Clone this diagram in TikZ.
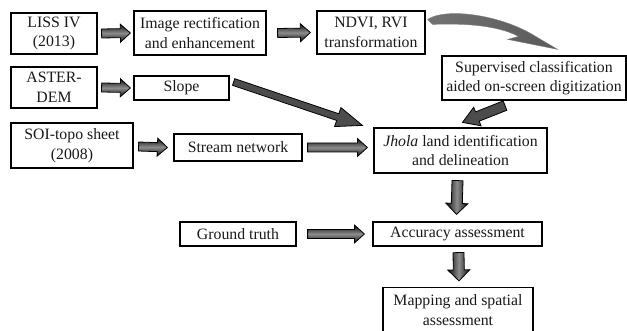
\documentclass[tikz,border=0pt]{standalone}
\usepackage{fontspec}
\setmainfont{Liberation Serif}
\usetikzlibrary{calc}
\newcommand\blockarrow[6][]{%
  \coordinate (ba) at #2;
  \coordinate (bb) at #3;
  \coordinate (bc) at ($(bb)!#6!(ba)$);
  \path[barrow,#1] ($(ba)!#4!90:(bb)$) -- ($(bc)!#4!90:(bb)$) -- ($(bc)!#5!90:(bb)$) -- (bb)
     -- ($(bc)!#5!-90:(bb)$) -- ($(bc)!#4!-90:(bb)$) -- ($(ba)!#4!-90:(bb)$) -- cycle;
}
\begin{document}
\begin{tikzpicture}[x=1pt,y=-1pt,
  box/.style={draw=black, line width=1.2pt, inner sep=0pt, align=center,
    font=\fontsize{15.8}{19.5}\selectfont, text=black!90},
  barrow/.style={draw=black, line width=0.8pt, top color=black!95, bottom color=black!95, middle color=black!45},
  barrowflat/.style={shade=false, fill=black!70},
]
\useasboundingbox (0,0) rectangle (627,331);

\node[box, minimum width=86pt, minimum height=41pt] (liss) at (54,33.5) {LISS IV\\(2013)};
\node[box, minimum width=132pt, minimum height=44pt] (imgrect) at (200,33) {Image rectification\\and enhancement};
\node[box, minimum width=108pt, minimum height=43pt] (ndvi) at (371,32.5) {NDVI, RVI\\transformation};
\node[box, minimum width=86pt, minimum height=41pt] (aster) at (54,87.5) {ASTER-\\DEM};
\node[box, minimum width=95pt, minimum height=24pt] (slope) at (181.5,88) {Slope};
\node[box, minimum width=184pt, minimum height=44pt] (sup) at (534,78) {Supervised classification\\aided on-screen digitization};
\node[box, minimum width=122pt, minimum height=45pt] (soi) at (72,145.5) {SOI-topo sheet\\(2008)};
\node[box, minimum width=128pt, minimum height=27pt] (stream) at (238,147.5) {Stream network};
\node[box, minimum width=173pt, minimum height=45pt] (jhola) at (460.5,150.5) {\textit{Jhola} land identification\\and delineation};
\node[box, minimum width=116pt, minimum height=24pt] (ground) at (238,234) {Ground truth};
\node[box, minimum width=169pt, minimum height=24pt] (acc) at (457.5,234) {Accuracy assessment};
\node[box, minimum width=150pt, minimum height=45pt] (map) at (458,310) {Mapping and spatial\\assessment};

% straight block arrows
\blockarrow{($(liss.east)+(4,0)$)}{($(imgrect.west)+(-3,0)$)}{4.5pt}{9pt}{10pt}
\blockarrow{($(imgrect.east)+(11,0)$)}{($(ndvi.west)+(-6,0)$)}{4.5pt}{9pt}{10pt}
\blockarrow{($(aster.east)+(4,0)$)}{($(slope.west)+(-3,0)$)}{4.5pt}{9pt}{10pt}
\blockarrow{($(soi.east)+(5,1)$)}{($(stream.west)+(-6,0)$)}{4.5pt}{9pt}{10pt}
\blockarrow{($(stream.east)+(5,0)$)}{($(jhola.west)+(-6,-3)$)}{4.5pt}{9pt}{10pt}
\blockarrow{($(ground.east)+(11,0)$)}{($(acc.west)+(-8,0)$)}{4.5pt}{9pt}{10pt}
\blockarrow[shading angle=90]{($(jhola.south)+(-3,7)$)}{($(acc.north)+(-1,-7)$)}{5.5pt}{11pt}{11pt}
\blockarrow[shading angle=90]{($(acc.south)+(1,6)$)}{($(map.north)+(1,-6)$)}{5.5pt}{11pt}{11pt}
% diagonal block arrows
\blockarrow[barrowflat]{($(slope.east)+(4,-6)$)}{($(jhola.north west)+(-11,-2)$)}{3.5pt}{10pt}{26pt}
\blockarrow[barrowflat]{($(sup.south)+(-29,5)$)}{($(jhola.north)+(2,-5)$)}{5pt}{10pt}{16pt}

% curved arrow
\shade[left color=black!55, middle color=black!10, right color=black!65, draw=black!50, line width=0.4pt,
  shift={(ndvi.north east)}]
  (2,9) .. controls (20,-3) and (75,4) .. (110,26) -- (132,39) -- (82,29) -- (93,26)
  .. controls (70,14) and (35,13) .. (7,14) -- cycle;
\end{tikzpicture}
\end{document}
